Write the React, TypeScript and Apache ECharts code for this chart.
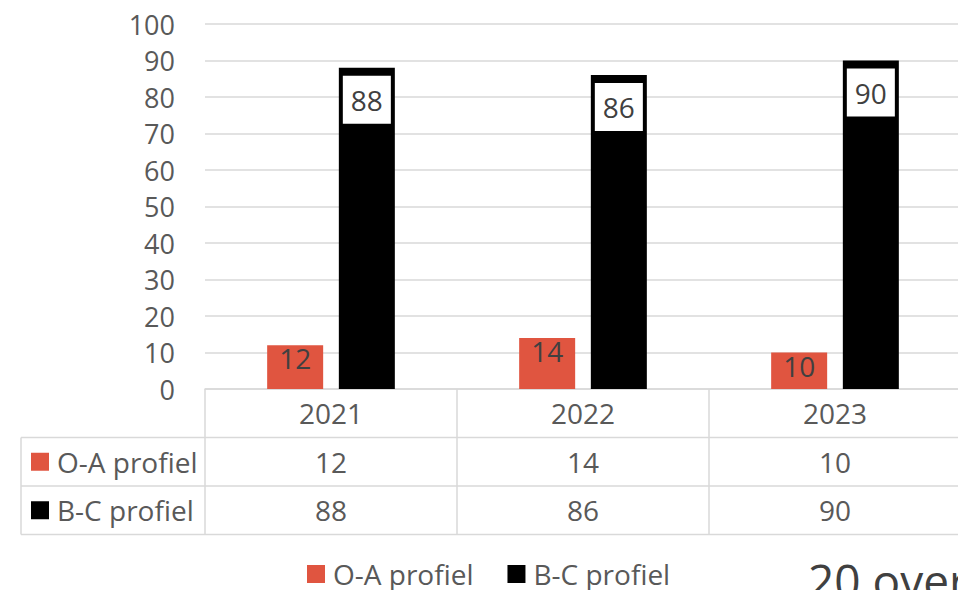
import React, { useEffect, useRef } from "react";
import * as echarts from "echarts";

const categories = ["2021", "2022", "2023"];
const seriesNames = ["O-A profiel", "B-C profiel"];
const oaValues = [12, 14, 10];
const bcValues = [88, 86, 90];
const yMin = 0;
const yMax = 100;
const yInterval = 10;
const footerText = "20 over";

const RED = "#E05540";
const BLACK = "#000000";
const GRAY_TEXT = "#595959";
const LINE = "#D9D9D9";
const FONT = "'Open Sans', 'Noto Sans', sans-serif";

export default function App() {
  const ref = useRef<HTMLDivElement>(null);

  useEffect(() => {
    if (!ref.current) return;
    const chart = echarts.init(ref.current, null, { renderer: "svg" });

    const gridLeft = 205;
    const gridTop = 24;
    const axisY = 389;
    const rowH = 48.5;
    const tableLeft = 21;
    const tableRight = 962;
    const rowYs = [axisY + rowH, axisY + 2 * rowH, axisY + 3 * rowH];

    const graphic: any[] = [];
    rowYs.forEach((y) => {
      graphic.push({
        type: "line",
        shape: { x1: tableLeft, y1: y, x2: tableRight, y2: y },
        style: { stroke: LINE, lineWidth: 1.5 },
        silent: true,
      });
    });
    graphic.push({
      type: "line",
      shape: { x1: tableLeft, y1: rowYs[0], x2: tableLeft, y2: rowYs[2] },
      style: { stroke: LINE, lineWidth: 1.5 },
      silent: true,
    });
    const colors = [RED, BLACK];
    seriesNames.forEach((name, i) => {
      const cy = axisY + rowH * (i + 1.5);
      graphic.push({
        type: "rect",
        shape: { x: 31, y: cy - 9, width: 18, height: 18 },
        style: { fill: colors[i] },
        silent: true,
      });
      graphic.push({
        type: "text",
        x: 57,
        y: cy,
        style: {
          text: name,
          fill: GRAY_TEXT,
          font: `28px ${FONT}`,
          verticalAlign: "middle",
          align: "left",
        },
        silent: true,
      });
    });
    graphic.push({
      type: "text",
      x: 808,
      y: 580,
      style: {
        text: footerText,
        fill: "#404040",
        font: `46px ${FONT}`,
        verticalAlign: "middle",
        align: "left",
      },
      silent: true,
    });

    const option: any = {
      animation: false,
      backgroundColor: "#ffffff",
      textStyle: { fontFamily: FONT },
      grid: {
        left: gridLeft,
        top: gridTop,
        width: 756,
        height: axisY - gridTop,
        containLabel: false,
      },
      legend: {
        data: seriesNames,
        left: 307,
        top: 560,
        padding: 0,
        itemWidth: 18,
        itemHeight: 18,
        itemGap: 34,
        icon: "rect",
        textStyle: {
          fontSize: 28,
          color: GRAY_TEXT,
          fontFamily: FONT,
          padding: [0, 0, 0, 3],
        },
      },
      xAxis: {
        type: "category",
        data: categories,
        axisLine: { show: true, lineStyle: { color: LINE, width: 1.5 } },
        axisTick: {
          show: true,
          alignWithLabel: false,
          length: rowH * 3,
          lineStyle: { color: LINE, width: 1.5 },
        },
        axisLabel: {
          margin: 0,
          color: GRAY_TEXT,
          fontSize: 28,
          fontFamily: FONT,
          lineHeight: rowH,
          formatter: (v: string, i: number) =>
            `${v}\n${oaValues[i]}\n${bcValues[i]}`,
        },
        splitLine: { show: false },
      },
      yAxis: {
        type: "value",
        min: yMin,
        max: yMax,
        interval: yInterval,
        axisLine: { show: false },
        axisTick: { show: false },
        axisLabel: {
          margin: 30,
          color: GRAY_TEXT,
          fontSize: 27,
          fontFamily: FONT,
        },
        splitLine: { show: true, lineStyle: { color: LINE, width: 1.5 } },
      },
      series: [
        {
          name: seriesNames[0],
          type: "bar",
          data: oaValues,
          barWidth: 56,
          barGap: "28%",
          itemStyle: { color: RED },
          label: {
            show: true,
            position: "insideTop",
            distance: -1,
            color: "#404040",
            fontSize: 28,
            lineHeight: 28,
            fontFamily: FONT,
          },
        },
        {
          name: seriesNames[1],
          type: "bar",
          data: bcValues,
          barWidth: 56,
          barGap: "28%",
          itemStyle: { color: BLACK },
          label: {
            show: true,
            position: "insideTop",
            distance: 8,
            color: "#404040",
            fontSize: 28,
            lineHeight: 28,
            fontFamily: FONT,
            backgroundColor: "#ffffff",
            padding: [10, 8],
          },
        },
      ],
      graphic,
    };

    chart.setOption(option);
    return () => chart.dispose();
  }, []);

  return (
    <div
      style={{
        position: "fixed",
        left: 0,
        top: 0,
        width: 958,
        height: 590,
        overflow: "hidden",
        background: "#fff",
      }}
    >
      <div ref={ref} style={{ width: 962, height: 590 }} />
    </div>
  );
}
